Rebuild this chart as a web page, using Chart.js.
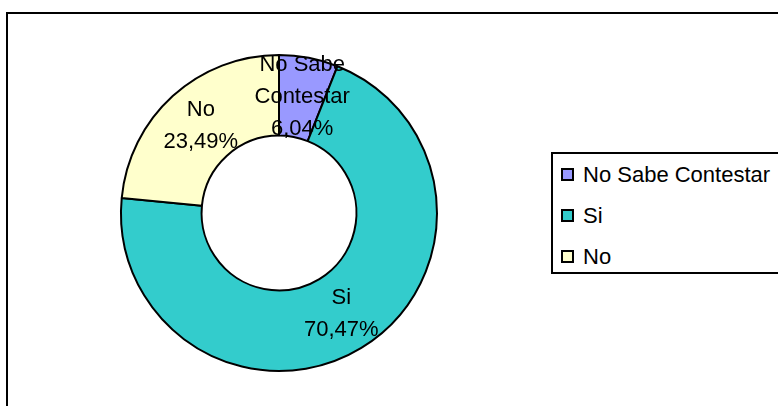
<!DOCTYPE html>
<html>
<head>
<meta charset="utf-8">
<script src="https://cdn.jsdelivr.net/npm/chart.js@4/dist/chart.umd.min.js"></script>
<style>
  body { margin: 0; background: #fff; overflow: hidden; }
  #wrap { position: relative; width: 778px; height: 406px; overflow: hidden; }
  #frame {
    position: absolute; left: 6px; top: 12px; width: 820px; height: 440px;
    border: 2px solid #000; box-sizing: border-box;
  }
  #chart { position: absolute; left: 0; top: 0; }
  #legend {
    position: absolute; left: 551px; top: 152px; width: 260px; height: 122px;
    border: 2px solid #000; box-sizing: border-box; background: #fff;
    font-family: "Liberation Sans", Arial, sans-serif; font-size: 22px; color: #000;
  }
  .item { position: absolute; left: 0; height: 26px; line-height: 26px; white-space: nowrap; }
  .swatch {
    position: absolute; left: 8px; top: 6px; width: 13px; height: 13px;
    border: 2px solid #000; box-sizing: border-box;
  }
  .txt { position: absolute; left: 30px; top: 0; }
</style>
</head>
<body>
<div id="wrap">
  <div id="frame"></div>
  <canvas id="chart" width="778" height="406"></canvas>
  <div id="legend"></div>
</div>
<script>
// DATA
const categories = ["No Sabe Contestar", "Si", "No"];
const sliceLines = [["No Sabe", "Contestar"], ["Si"], ["No"]];
const percentages = [6.04, 70.47, 23.49];
const colors = ["#9999FF", "#33CCCC", "#FFFFCC"];

// labels drawn on each slice, at the arc's centre point
const sliceLabels = {
  id: "sliceLabels",
  afterDatasetsDraw(chart) {
    const ctx = chart.ctx;
    const arcs = chart.getDatasetMeta(0).data;
    ctx.save();
    ctx.font = '22px "Liberation Sans", Arial, sans-serif';
    ctx.fillStyle = "#000";
    ctx.textAlign = "center";
    ctx.textBaseline = "middle";
    arcs.forEach((arc, i) => {
      const p = arc.tooltipPosition();
      const lines = sliceLines[i].concat([percentages[i].toFixed(2).replace(".", ",") + "%"]);
      const lh = 32;
      const y0 = p.y - ((lines.length - 1) * lh) / 2;
      lines.forEach((l, j) => ctx.fillText(l, p.x + 1, y0 + j * lh));
    });
    ctx.restore();
  },
};

const chart = new Chart(document.getElementById("chart"), {
  type: "doughnut",
  data: {
    labels: categories,
    datasets: [
      {
        data: percentages,
        backgroundColor: colors,
        borderColor: "#000",
        borderWidth: 2,
      },
    ],
  },
  options: {
    responsive: false,
    animation: false,
    events: [],
    devicePixelRatio: 1,
    radius: 158,
    cutout: "49%",
    layout: { padding: { left: 100, right: 320, top: 30, bottom: 10 } },
    plugins: { legend: { display: false }, tooltip: { enabled: false } },
  },
  plugins: [sliceLabels],
});

// LEGEND
const legendEl = document.getElementById("legend");
const rowTops = [8, 49, 90];
categories.forEach((c, i) => {
  const item = document.createElement("div");
  item.className = "item";
  item.style.top = rowTops[i] + "px";
  item.innerHTML = `<span class="swatch" style="background:${colors[i]}"></span><span class="txt">${c}</span>`;
  legendEl.appendChild(item);
});
</script>
</body>
</html>
